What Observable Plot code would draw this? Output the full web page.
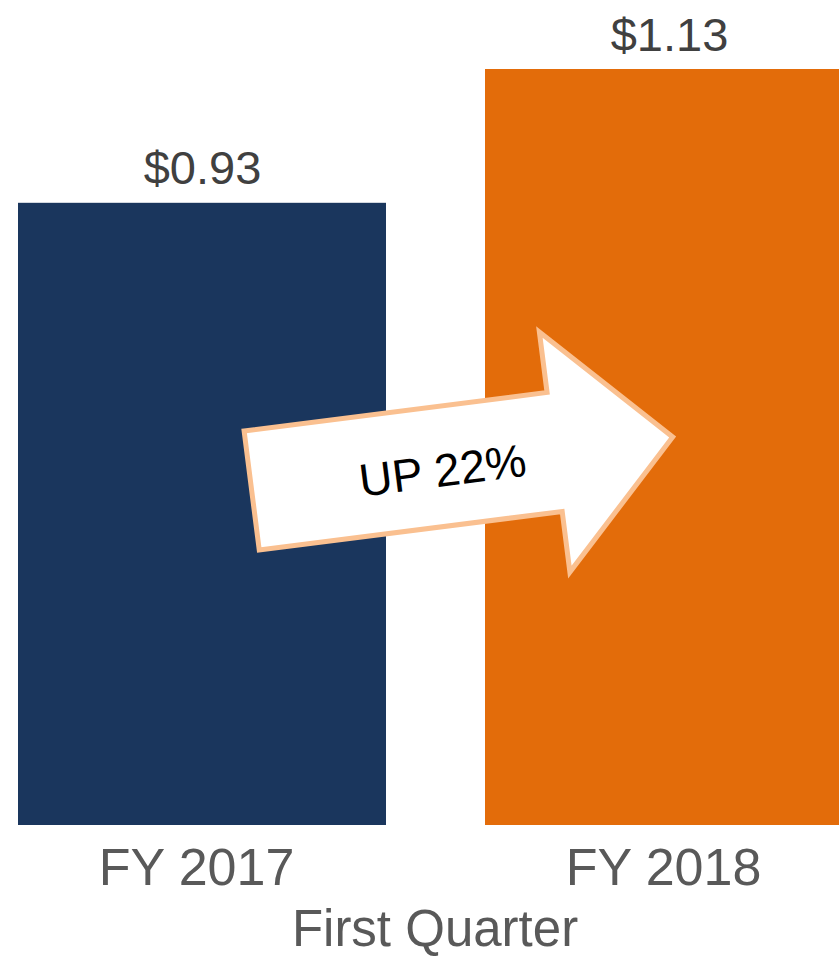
<!DOCTYPE html>
<html>
<head>
<meta charset="utf-8">
<script src="https://cdn.jsdelivr.net/npm/d3@7"></script>
<script src="https://cdn.jsdelivr.net/npm/@observablehq/plot@0.6"></script>
<style>
  html, body { margin: 0; padding: 0; background: #fff; overflow: hidden; }
  #chart svg { overflow: hidden; }
</style>
</head>
<body>
<div id="chart"></div>
<script>
// Data
const categories = ["FY 2017", "FY 2018"];
const values = [0.93, 1.13];
const valueLabels = ["$0.93", "$1.13"];
const barColors = ["#1A365D", "#E36C0A"];
const axisTitle = "First Quarter";
const arrowText = "UP 22%";
// arrow from FY 2017 (value 0.50) to FY 2018 (value 0.58)
const arrowFrom = {cat: "FY 2017", frac: 0.635, value: 0.50};
const arrowTo = {cat: "FY 2018", frac: 0.51, value: 0.58};

const data = categories.map((c, i) => ({cat: c, value: values[i], label: valueLabels[i], color: barColors[i]}));

const W = 839, H = 957;
const font = "'Liberation Sans', Arial, Helvetica, sans-serif";

const plot = Plot.plot({
  width: W,
  height: H,
  marginTop: 69,
  marginBottom: 132,
  marginLeft: 0,
  marginRight: 0,
  style: {fontFamily: font, color: "#595959", background: "#fff", overflow: "hidden"},
  x: {domain: categories, range: [17, 854], paddingInner: 0.2115, paddingOuter: 0, align: 0.5},
  y: {domain: [0, d3.max(values)], axis: null},
  marks: [
    Plot.barY(data, {x: "cat", y: "value", fill: "color"}),
    Plot.text(data, {x: "cat", y: "value", text: "label", lineAnchor: "bottom", dy: -19, fontSize: 47, fill: "#404040"}),
    Plot.axisX({tickSize: 0, tickPadding: 23, fontSize: 52, label: null, fill: "#595959", dx: -6}),
    Plot.text([axisTitle], {frameAnchor: "bottom", lineAnchor: "top", dy: 84, dx: 15, fontSize: 51, fill: "#595959"})
  ]
});

document.getElementById("chart").appendChild(plot);

// Arrow annotation positioned through the plot's scales
const xs = plot.scale("x"), ys = plot.scale("y");
const px = (p) => xs.apply(p.cat) + xs.bandwidth * p.frac;
const py = (p) => ys.apply(p.value);
const x0 = px(arrowFrom), y0 = py(arrowFrom), x1 = px(arrowTo), y1 = py(arrowTo);
const L = Math.hypot(x1 - x0, y1 - y0);
const ang = Math.atan2(y1 - y0, x1 - x0) * 180 / Math.PI;
const shaftH = 60, headH = 121, headL = 119;
const pts = [
  [0, -shaftH], [L - headL, -shaftH], [L - headL, -headH], [L, 0],
  [L - headL, headH], [L - headL, shaftH], [0, shaftH]
];
const g = d3.select(plot).append("g")
  .attr("transform", `translate(${x0},${y0}) rotate(${ang})`);
g.append("polygon")
  .attr("points", pts.map(p => p.join(",")).join(" "))
  .attr("fill", "#fff")
  .attr("stroke", "#FAC090")
  .attr("stroke-width", 5)
  .attr("stroke-linejoin", "miter");
g.append("text")
  .attr("x", 192)
  .attr("y", 4)
  .attr("text-anchor", "middle")
  .attr("dominant-baseline", "central")
  .attr("font-family", font)
  .attr("font-size", 46)
  .attr("fill", "#000")
  .text(arrowText);
</script>
</body>
</html>
